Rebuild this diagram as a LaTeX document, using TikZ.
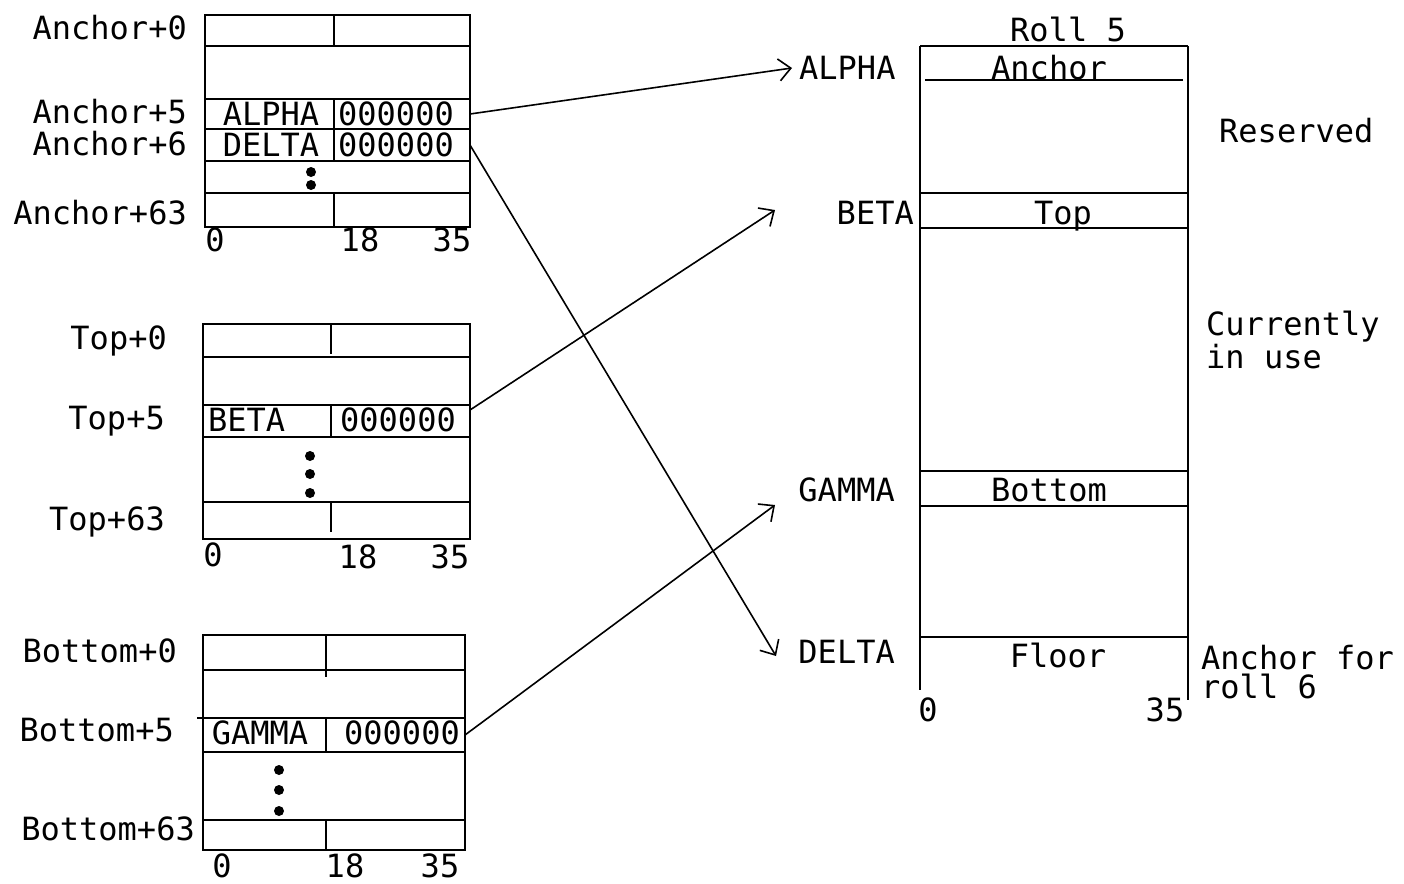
\documentclass[tikz,border=0pt]{standalone}
\usepackage{fontspec}
\setmonofont{DejaVu Sans Mono}
\usetikzlibrary{arrows.meta}

\begin{document}
\begin{tikzpicture}[
    x=0.5pt, y=-0.5pt,
    font=\ttfamily\fontsize{16}{14.5}\selectfont,
    line width=1.2pt,
    txt/.style={inner sep=0pt, text height=11.7pt, text depth=0pt},
    addr/.style={txt, anchor=east},
    note/.style={inner sep=0pt, align=left, anchor=north west},
    dot/.style={circle, fill, inner sep=0pt, minimum size=5pt},
    link/.style={-{Straight Barb[length=6pt,width=11pt]}, line width=0.8pt}
]
\useasboundingbox (0,0) rectangle (1404,884);

% Anchor block
\draw (205,15) rectangle (470,227);
\draw (205,46) -- (470,46);
\draw (205,99) -- (470,99);
\draw (205,129) -- (470,129);
\draw (205,161) -- (470,161);
\draw (205,193) -- (470,193);
\draw (334,15) -- (334,46);
\draw (334,99) -- (334,161);
\draw (334,193) -- (334,227);
\node[addr] (a0) at (188,28) {Anchor+0};
\node[addr] (a5) at (188,112) {Anchor+5};
\node[addr] (a6) at (188,144) {Anchor+6};
\node[addr] (a63) at (188,213) {Anchor+63};
\node[txt] (a5name) at (271,114) {ALPHA};
\node[txt] (a5val) at (396,114) {000000};
\node[txt] (a6name) at (271,145) {DELTA};
\node[txt] (a6val) at (396,145) {000000};
\node[dot] (ad1) at (311,172) {};
\node[dot] (ad2) at (311,185) {};
\node[txt] (ab0) at (215,240) {0};
\node[txt] (ab18) at (360,240) {18};
\node[txt] (ab35) at (452,240) {35};
\coordinate (a5out) at (470,114);
\coordinate (a6out) at (470,145);

% Top block
\draw (203,324) rectangle (470,539);
\draw (203,357) -- (470,357);
\draw (203,405) -- (470,405);
\draw (203,437) -- (470,437);
\draw (203,502) -- (470,502);
\draw (331,324) -- (331,354);
\draw (331,405) -- (331,437);
\draw (331,502) -- (331,532);
\node[addr] (t0) at (168,338) {Top+0};
\node[addr] (t5) at (166,418) {Top+5};
\node[addr] (t63) at (166,519) {Top+63};
\node[txt, anchor=west] (t5name) at (207,420) {BETA};
\node[txt] (t5val) at (398,420) {000000};
\node[dot] (td1) at (310,456) {};
\node[dot] (td2) at (310,474) {};
\node[dot] (td3) at (310,493) {};
\node[txt] (tb0) at (213,555) {0};
\node[txt] (tb18) at (358,557) {18};
\node[txt] (tb35) at (450,557) {35};
\coordinate (t5out) at (470,410);

% Bottom block
\draw (203,635) rectangle (465,850);
\draw (203,670) -- (465,670);
\draw (197,718) -- (465,718);
\draw (203,752) -- (465,752);
\draw (203,820) -- (465,820);
\draw (326,635) -- (326,677);
\draw (326,718) -- (326,752);
\draw (326,820) -- (326,850);
\node[addr] (b0) at (178,651) {Bottom+0};
\node[addr] (b5) at (175,730) {Bottom+5};
\node[addr] (b63) at (196,829) {Bottom+63};
\node[txt] (b5name) at (260,733) {GAMMA};
\node[txt] (b5val) at (402,733) {000000};
\node[dot] (bd1) at (279,770) {};
\node[dot] (bd2) at (279,790) {};
\node[dot] (bd3) at (279,811) {};
\node[txt] (bb0) at (222,866) {0};
\node[txt] (bb18) at (345,866) {18};
\node[txt] (bb35) at (440,866) {35};
\coordinate (b5out) at (465,735);

% Roll 5
\draw (920,46) -- (1188,46);
\draw (920,46) -- (920,690);
\draw (1188,46) -- (1188,700);
\draw (925,80) -- (1183,80);
\draw (920,193) -- (1188,193);
\draw (920,228) -- (1188,228);
\draw (920,471) -- (1188,471);
\draw (920,506) -- (1188,506);
\draw (920,637) -- (1188,637);
\node[txt] (roll) at (1068,30) {Roll 5};
\node[txt] (ranchor) at (1049,68) {Anchor};
\node[txt] (rtop) at (1063,213) {Top};
\node[txt] (rbottom) at (1049,490) {Bottom};
\node[txt] (rfloor) at (1058,656) {Floor};
\node[txt] (r0) at (928,710) {0};
\node[txt] (r35) at (1165,710) {35};
\node[txt, anchor=west] (alpha) at (798,68) {ALPHA};
\node[txt, anchor=east] (beta) at (915,213) {BETA};
\node[txt, anchor=east] (gamma) at (896,490) {GAMMA};
\node[txt, anchor=east] (delta) at (896,652) {DELTA};
\node[txt, anchor=west] (reserved) at (1218,131) {Reserved};
\node[note] (inuse) at (1205,310) {Currently\\in use};
\node[note] (nextroll) at (1200,644) {Anchor for\\roll 6};
\coordinate (betain) at (775,210);
\coordinate (gammain) at (775,505);
\coordinate (deltain) at (776,656);

% links
\draw[link] (a5out) -- ([xshift=-3pt]alpha.west);
\draw[link] (a6out) -- (deltain);
\draw[link] (t5out) -- (betain);
\draw[link] (b5out) -- (gammain);
\end{tikzpicture}
\end{document}
